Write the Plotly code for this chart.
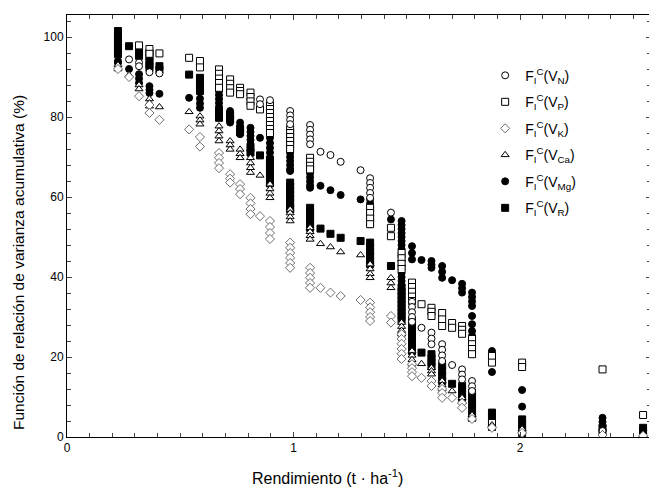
import plotly.graph_objects as go

# Yield positions (t/ha) of the observations
yields = [0.225, 0.274, 0.318, 0.364, 0.408, 0.539, 0.587, 0.671, 0.720, 0.764,
          0.810, 0.852, 0.896, 0.985, 1.073, 1.119, 1.163, 1.208, 1.296, 1.338,
          1.430, 1.477, 1.523, 1.565, 1.609, 1.656, 1.700, 1.744, 1.788, 1.876,
          2.009, 2.364, 2.543]

# Cumulative variance ratio function (%) for each yield, per nutrient
fn_N = [[], [94.4], [93.6, 92.7], [91.2], [90.9], [], [], [], [], [],
        [], [84.4, 83.2], [84.2], [81.5, 80.4, 79.3, 78.2], [78, 76.8, 75.6, 74.4, 73.2],
        [71.3], [70.5], [68.8], [66.7], [64.7, 63.5, 62.3, 61, 59.8],
        [56.1], [], [33.8, 32.5, 31.2, 30, 28.8], [27.3], [26.1, 24.6, 23.2],
        [23.2, 21.8, 20.4, 19], [18], [16.9, 15.6, 14.4], [14, 12.7, 11.5], [],
        [], [1.5], []]

fn_P = [[], [], [97.9], [97, 95.8], [95.9], [94.8], [94, 92.4],
        [91.9, 90.8, 89.6, 88.5, 87.3], [89.4, 88.3, 87.2, 86.1], [87.3, 86.5, 85.7],
        [86.1, 85, 83.9, 82.8], [81.9], [83, 82, 81, 80, 79, 78, 77, 76],
        [77, 76, 75, 74, 73, 72], [69.8, 68.8, 67.8, 66.9],
        [], [], [], [], [57.3, 56, 54.6, 53.2],
        [52.3, 50.2], [46, 44.7, 43.3, 42], [38.6, 37.5, 36.3, 35.1, 34], [33.2],
        [32.3, 31.3, 30.25], [31, 29.4, 27.75], [28.5, 27.3], [27.75, 26.8, 25.8],
        [24.5, 23.2, 22, 20.7], [20.25, 18.6, 3.5], [18.6, 17.5], [16.9], [5.5]]

fn_K = [[92], [90], [85.2], [83, 81], [79.3], [76.9], [75, 72.6],
        [71, 69.8, 68.5, 67.2], [65.7, 64.6, 63.6], [63.2, 62, 60.7],
        [59.8, 58.4, 57, 55.7], [55.2], [54, 52.5, 51, 49.5],
        [48.6, 47.3, 46, 44.8, 43.5, 42.3], [42.3, 41, 39.8, 38.5, 37.3],
        [37.3], [36.1], [35.25], [34.25], [33.6, 32.4, 31.2, 30, 29],
        [30.25, 28.6], [25.7, 24.5, 23.3, 22, 20.8, 19.5], [18.2, 17.2, 16.2, 15.2],
        [14.8], [14, 12.75], [12, 11, 9.8], [9.8], [8.5, 7.3], [4.5], [2.3],
        [1], [0.5], [0.3]]

fn_Ca = [[93, 92], [90.5], [88, 87], [84.5, 83.5, 82.7], [82.5], [81.3],
         [80.2, 79.2, 78.2], [77.7, 76.5, 75.2, 74], [74, 73, 71.9], [71.9, 70.8, 69.8],
         [69.8, 68.5, 67.3, 66.1], [65.4], [63.2, 62, 60.9, 59.8], [56.9, 56, 55, 54],
         [52.3, 51.3, 50.3, 49.4], [48.3], [47.5], [46.25], [45.5],
         [43.2, 42, 40.8, 39.8], [39.8, 38.5, 37.3], [28.6, 27.6, 26.6, 25.7],
         [21.5, 20.4, 19.3, 18.2], [18.3], [17.3, 16.5, 15.7], [14, 13, 12], [11.5],
         [9.8, 8.8], [5.5, 4.5], [3], [2], [0.8], [0.5]]

fn_Mg = [[94, 93.5], [92], [90.7, 89.6, 88.5], [87.7, 86.8, 86], [85.8], [84.8],
         [84.6, 83.4, 82.3], [86.5, 85.5, 84.5, 83.5, 82.5], [81.5, 80.5, 79.5, 78.6],
         [78.6, 77.6, 76.6, 75.7], [77.3, 76.3, 75.3, 74.3, 73.3], [74.8],
         [74.8, 73.5, 72.3, 71.1], [72, 71, 70, 69, 68, 67, 66.5],
         [66.9, 65.9, 64.9, 63.9, 62.9, 62.3], [62.8], [61.7], [60.5], [59.4],
         [59.4, 58.4, 57.4, 56.4, 55.4, 54.4, 53.2], [54.4],
         [54, 53, 52, 51, 50, 49, 48, 47, 46, 45, 44, 43, 42, 41, 40, 39, 38],
         [47.7, 46, 44.4], [44.25], [44, 43.1, 42.3], [42.75, 41.3, 39.8], [39.2],
         [38.3, 37.2, 36.1],
         [36.1, 35, 33.9, 32.75, 30.25, 28.2, 26.5, 25.3, 24, 22.8, 21.5],
         [21.5, 20.7, 16.25], [11.75, 7.6], [4.8, 3.8, 2.8], [1.5]]

fn_R = [[101.5, 100.5, 99.5, 98.5, 97.5, 96.5, 95.7], [97.7], [97.3, 96.3, 95.3],
        [96, 95, 94, 93, 92.3], [92.7, 91.8], [90.6], [89.8, 88.7, 87.6, 86.5],
        [81.5, 80.5, 79.8], [80.5, 79.5], [77, 76.2], [72.3, 71.1], [70.4],
        [69.4, 68.4, 67.4, 66.4, 65.4, 64.4, 63.4],
        [63.6, 62.6, 61.6, 60.6, 59.6, 58.6, 57.6, 56.9],
        [57.3, 56.3, 55.3, 54.3, 53.3, 52.3], [52.1], [50.8], [49.8], [49],
        [48.6, 47.5, 46.4, 45.3, 44.2, 43.2], [42.75],
        [37.3, 36.3, 35.3, 34.3, 33.3, 32.3, 31.3, 30.3, 29.3],
        [29, 28, 27, 26, 25, 24, 23, 22, 21.5], [21.1], [20.7, 19.7, 18.7, 17.75],
        [17.75, 16.5, 15.2, 14], [13.3], [12.75, 11.8, 10.8, 9.8],
        [11.1, 10, 9, 8, 7, 6, 4.8], [6.1, 5, 3.8, 2.5], [4.4, 3.3, 2.2, 1],
        [2.3, 1.2], [2.3, 1.2, 0.3]]


def flatten(stacks):
    xs, ys = [], []
    for x, col in zip(yields, stacks):
        for v in col:
            xs.append(x)
            ys.append(v)
    return xs, ys


# (label subscript, data, symbol, fill, line colour, size, legend rank) in drawing order
series = [
    ("R", fn_R, "square", "black", "black", 7, 6),
    ("Mg", fn_Mg, "circle", "black", "black", 7, 5),
    ("P", fn_P, "square", "white", "black", 7, 2),
    ("N", fn_N, "circle", "white", "black", 7, 1),
    ("Ca", fn_Ca, "triangle-up", "white", "black", 7, 4),
    ("K", fn_K, "diamond", "white", "#6e6e6e", 7, 3),
]

fig = go.Figure()
for sub, data, sym, fill, lc, size, rank in series:
    xs, ys = flatten(data)
    fig.add_trace(go.Scatter(
        x=xs, y=ys, mode="markers",
        name="F<sub>I</sub><sup>C</sup>(V<sub>%s</sub>)" % sub,
        legendrank=rank, legendgroup=sub,
        marker=dict(symbol=sym, size=size, color=fill,
                    line=dict(color=lc, width=1)),
    ))

font = "Liberation Sans, Arial, sans-serif"
# page shows the figure offset by the 8px body margin
fig.update_layout(
    width=649, height=485,
    margin=dict(l=59, r=6, t=7, b=56),
    paper_bgcolor="white", plot_bgcolor="white",
    font=dict(family=font, size=12, color="black"),
    showlegend=True,
    legend=dict(x=0.716, y=0.894, xanchor="left", yanchor="top",
                font=dict(size=14, family=font, color="black"),
                tracegroupgap=5.3, bgcolor="rgba(0,0,0,0)"),
    xaxis=dict(range=[0, 2.578], tickvals=[0, 1, 2], ticks="inside", ticklen=5,
               showline=True, linecolor="black", linewidth=1, mirror="ticks",
               showgrid=False, zeroline=False,
               minor=dict(dtick=0.1, tick0=0, ticks="inside", ticklen=4, showgrid=False),
               tickfont=dict(size=12)),
    yaxis=dict(range=[0, 105.5], tick0=0, dtick=20, ticks="inside", ticklen=5,
               showline=True, linecolor="black", linewidth=1, mirror="ticks",
               showgrid=False, zeroline=False,
               minor=dict(dtick=4, tick0=0, ticks="inside", ticklen=4, showgrid=False),
               tickfont=dict(size=12)),
    annotations=[
        dict(text="Rendimiento (t · ha<sup>-1</sup>)", xref="paper", yref="paper",
             x=(327 - 67) / 584, y=(437 - 477) / 422, showarrow=False,
             xanchor="center", yanchor="middle", font=dict(size=16, family=font)),
        dict(text="Función de relación de varianza acumulativa (%)", xref="paper",
             yref="paper", x=(18 - 67) / 584, y=(437 - 263) / 422, showarrow=False,
             textangle=-90, xanchor="center", yanchor="middle",
             font=dict(size=15.5, family=font)),
    ],
)

fig.write_html("out.html")
